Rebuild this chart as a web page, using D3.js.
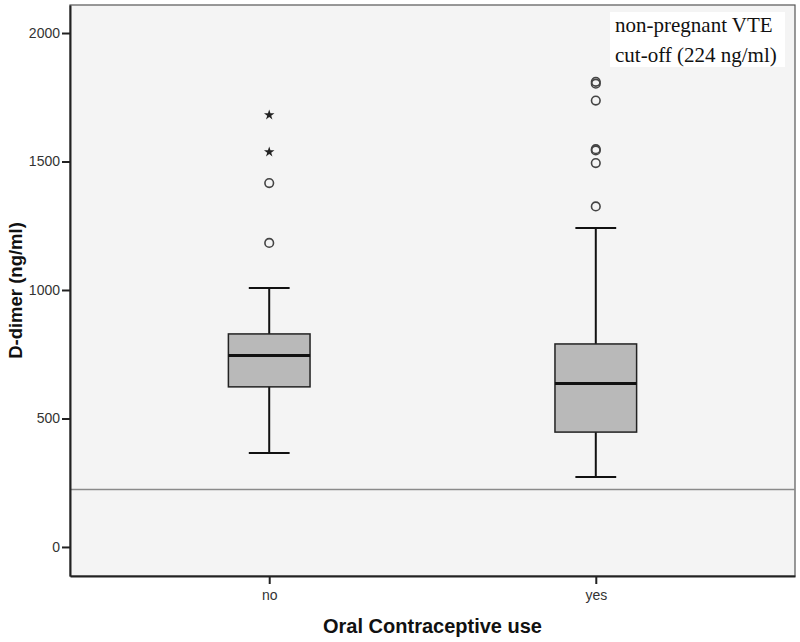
<!DOCTYPE html>
<html>
<head>
<meta charset="utf-8">
<script src="https://cdn.jsdelivr.net/npm/d3@7"></script>
<style>
  body { margin: 0; background: #fff; }
  svg { display: block; }
</style>
</head>
<body>
<svg width="800" height="642"></svg>
<script>
// groups on the x axis
var categories = ["no", "yes"];
// box stats per group: lower whisker, Q1, median, Q3, upper whisker
var whiskerLow = [366, 272];
var q1 = [623, 447];
var median = [745, 636];
var q3 = [829, 790];
var whiskerHigh = [1008, 1241];
// outliers (circles) and extremes (stars)
var outliers = [[1416, 1183], [1810, 1803, 1737, 1548, 1543, 1494, 1325]];
var extremes = [[1681, 1537], []];
var yTicks = [0, 500, 1000, 1500, 2000];
var cutoff = 224;

var svg = d3.select("svg");
var plotL = 70, plotR = 795, plotT = 5, plotB = 576;

var x = d3.scalePoint().domain(categories).range([plotL, plotR]).padding(0.61);
var y = d3.scaleLinear().domain([-113, 2109]).range([plotB, plotT]);

// plot background + frame
svg.append("rect")
    .attr("x", plotL).attr("y", plotT)
    .attr("width", plotR - plotL).attr("height", plotB - plotT)
    .attr("fill", "#f4f4f4")
    .attr("stroke", "#555").attr("stroke-width", 1.2);

// cut-off line
svg.append("line")
    .attr("x1", plotL).attr("x2", plotR)
    .attr("y1", y(cutoff)).attr("y2", y(cutoff))
    .attr("stroke", "#8a8a8a").attr("stroke-width", 1.5);

// axes
var yAxis = svg.append("g")
    .attr("transform", "translate(" + plotL + ",0)")
    .call(d3.axisLeft(y).tickValues(yTicks).tickFormat(d3.format("d"))
        .tickSize(8).tickSizeOuter(0).tickPadding(2));
var xAxis = svg.append("g")
    .attr("transform", "translate(0," + plotB + ")")
    .call(d3.axisBottom(x).tickSize(8).tickSizeOuter(0).tickPadding(6));

[yAxis, xAxis].forEach(function(a) {
    a.select(".domain").attr("stroke", "#222").attr("stroke-width", 2);
    a.selectAll(".tick line").attr("stroke", "#222").attr("stroke-width", 2);
    a.selectAll(".tick text")
        .attr("fill", "#333")
        .style("font-family", "Liberation Sans, Arial, sans-serif")
        .style("font-size", "14px");
});

var boxW = x.step() * 0.25;
var capW = boxW / 2;

var groups = svg.selectAll(".box")
    .data(categories)
    .enter().append("g")
    .attr("class", "box");

// whiskers
groups.append("line")
    .attr("x1", function(d) { return x(d); })
    .attr("x2", function(d) { return x(d); })
    .attr("y1", function(d, i) { return y(whiskerLow[i]); })
    .attr("y2", function(d, i) { return y(whiskerHigh[i]); })
    .attr("stroke", "#111").attr("stroke-width", 2);

groups.selectAll(".cap")
    .data(function(d, i) { return [whiskerLow[i], whiskerHigh[i]].map(function(v) { return {c: d, v: v}; }); })
    .enter().append("line")
    .attr("x1", function(d) { return x(d.c) - capW / 2; })
    .attr("x2", function(d) { return x(d.c) + capW / 2; })
    .attr("y1", function(d) { return y(d.v); })
    .attr("y2", function(d) { return y(d.v); })
    .attr("stroke", "#111").attr("stroke-width", 2);

// boxes
groups.append("rect")
    .attr("x", function(d) { return x(d) - boxW / 2; })
    .attr("width", boxW)
    .attr("y", function(d, i) { return y(q3[i]); })
    .attr("height", function(d, i) { return y(q1[i]) - y(q3[i]); })
    .attr("fill", "#b9b9b9")
    .attr("stroke", "#222").attr("stroke-width", 1.5);

// medians
groups.append("line")
    .attr("x1", function(d) { return x(d) - boxW / 2; })
    .attr("x2", function(d) { return x(d) + boxW / 2; })
    .attr("y1", function(d, i) { return y(median[i]); })
    .attr("y2", function(d, i) { return y(median[i]); })
    .attr("stroke", "#111").attr("stroke-width", 3);

// outlier circles
groups.selectAll(".out")
    .data(function(d, i) { return outliers[i].map(function(v) { return {c: d, v: v}; }); })
    .enter().append("circle")
    .attr("cx", function(d) { return x(d.c); })
    .attr("cy", function(d) { return y(d.v); })
    .attr("r", 4.3)
    .attr("fill", "none")
    .attr("stroke", "#444").attr("stroke-width", 1.6);

// extreme stars
var star = d3.symbol().type(d3.symbolStar).size(34);
groups.selectAll(".ext")
    .data(function(d, i) { return extremes[i].map(function(v) { return {c: d, v: v}; }); })
    .enter().append("path")
    .attr("d", star)
    .attr("transform", function(d) { return "translate(" + x(d.c) + "," + y(d.v) + ")"; })
    .attr("fill", "#222");

// axis titles
svg.append("text")
    .attr("x", (plotL + plotR) / 2).attr("y", 633)
    .attr("text-anchor", "middle")
    .style("font-family", "Liberation Sans, Arial, sans-serif")
    .style("font-size", "20px").style("font-weight", "bold")
    .attr("fill", "#111")
    .text("Oral Contraceptive use");

svg.append("text")
    .attr("transform", "translate(22," + (plotT + plotB) / 2 + ") rotate(-90)")
    .attr("text-anchor", "middle")
    .style("font-family", "Liberation Sans, Arial, sans-serif")
    .style("font-size", "18.5px").style("font-weight", "bold")
    .attr("fill", "#111")
    .text("D-dimer (ng/ml)");

// cut-off note
svg.append("rect")
    .attr("x", 610).attr("y", 12).attr("width", 175).attr("height", 55)
    .attr("fill", "#fff");
var note = svg.append("text")
    .style("font-family", "Liberation Serif, Times New Roman, serif")
    .style("font-size", "21px")
    .attr("fill", "#111");
note.append("tspan").attr("x", 615).attr("y", 32).text("non-pregnant VTE");
note.append("tspan").attr("x", 615).attr("y", 62).text("cut-off (224 ng/ml)");
</script>
</body>
</html>
